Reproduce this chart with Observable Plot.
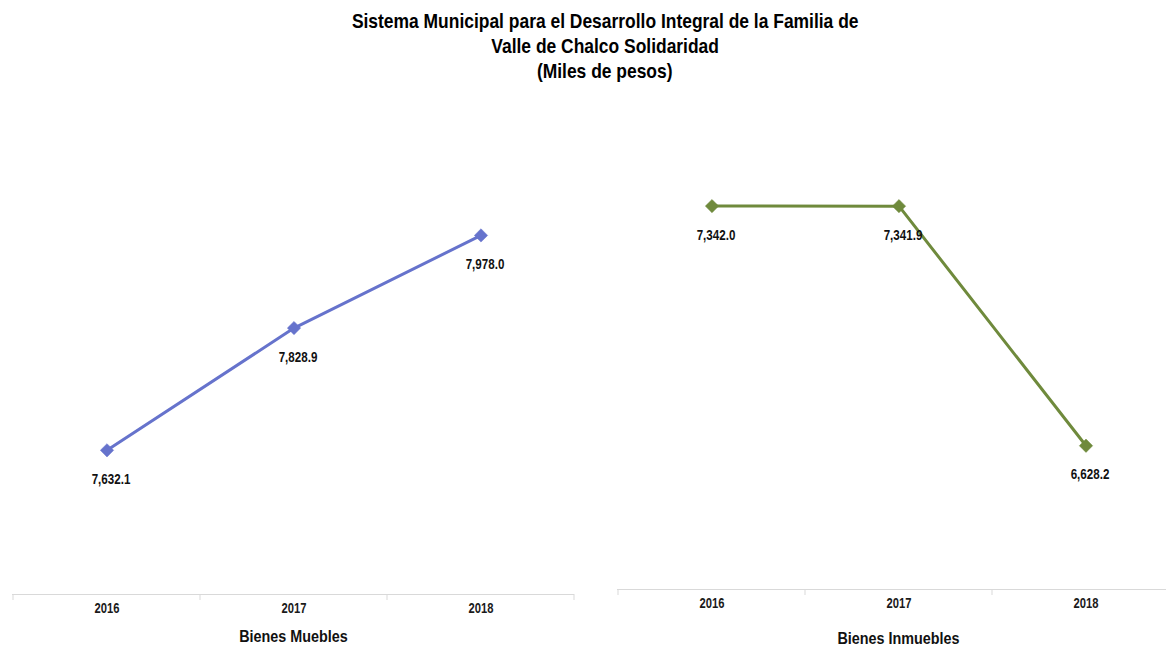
<!DOCTYPE html>
<html>
<head>
<meta charset="utf-8">
<script src="https://cdn.jsdelivr.net/npm/d3@7"></script>
<script src="https://cdn.jsdelivr.net/npm/@observablehq/plot@0.6"></script>
<style>
  html, body { margin: 0; padding: 0; background: #fff; overflow: hidden; }
  #page { position: relative; width: 1166px; height: 651px; overflow: hidden;
          font-family: "Liberation Sans", Arial, sans-serif; }
  #title { position: absolute; top: 8px; left: 105px; width: 1000px; text-align: center;
           font-weight: bold; font-size: 21px; line-height: 25px; color: #000; }
  #title div span { display: inline-block; transform: scaleX(0.83); transform-origin: center; white-space: nowrap; }
  #left { position: absolute; left: 0; top: 90px; }
  #right { position: absolute; left: 590px; top: 90px; }
  svg { overflow: visible; max-width: none !important; }
</style>
</head>
<body>
<div id="page">
  <div id="title">
    <div><span>Sistema Municipal para el Desarrollo Integral de la Familia de</span></div>
    <div><span>Valle de Chalco Solidaridad</span></div>
    <div><span>(Miles de pesos)</span></div>
  </div>
  <div id="left"></div>
  <div id="right"></div>
</div>
<script>
const years = ["2016", "2017", "2018"];
const mueblesValues = [7632.1, 7828.9, 7978.0];
const inmueblesValues = [7342.0, 7341.9, 6628.2];
const mueblesLabel = "Bienes Muebles";
const inmueblesLabel = "Bienes Inmuebles";

const fontFamily = '"Liberation Sans", Arial, sans-serif';
const fmt = d3.format(",.1f");

// Custom mark: faint tick marks at category band boundaries, via the x scale
function bandTicks(color) {
  return function (index, scales, values, dimensions) {
    const x = scales.x;
    const bw = x.bandwidth();
    const y0 = dimensions.height - dimensions.marginBottom;
    const g = d3.create("svg:g");
    const dom = x.domain();
    const edges = dom.map(d => x(d)).concat([x(dom[dom.length - 1]) + bw]);
    g.selectAll("line").data(edges).join("line")
      .attr("x1", d => d).attr("x2", d => d)
      .attr("y1", y0).attr("y2", y0 + 6)
      .attr("stroke", color).attr("stroke-width", 1);
    return g.node();
  };
}

function panel({values, label, color, domain, width, height, mL, mR, mT, mB, titleDy}) {
  const data = years.map((y, i) => ({year: y, value: values[i]}));
  return Plot.plot({
    width, height,
    marginLeft: mL, marginRight: mR, marginTop: mT, marginBottom: mB,
    style: {fontFamily, background: "transparent", overflow: "visible"},
    x: {type: "band", domain: years, padding: 0, label: null},
    y: {domain, axis: null},
    marks: [
      Plot.ruleY([domain[0]], {stroke: "#d9d9d9", strokeWidth: 1.2}),
      bandTicks("#d9d9d9"),
      Plot.axisX({tickSize: 0, tickPadding: 9, fontSize: 14, fontWeight: "bold", fill: "#1a1a1a", label: null}),
      Plot.line(data, {x: "year", y: "value", stroke: color, strokeWidth: 3}),
      Plot.dot(data, {x: "year", y: "value", symbol: "diamond2", r: 6, fill: color, stroke: color, strokeWidth: 0.5}),
      Plot.text(data, {x: "year", y: "value", text: d => fmt(d.value), dy: 29, dx: 4,
        fontSize: 14.5, fontWeight: "bold", fill: "#111"}),
      Plot.text([label], {frameAnchor: "bottom", dy: titleDy, fontSize: 16.5, fontWeight: "bold", fill: "#111"})
    ]
  });
}

// Condense text glyphs horizontally (narrow-font look)
function condense(svg) {
  svg.querySelectorAll("text").forEach(t => {
    const fs = parseFloat(getComputedStyle(t).fontSize);
    const s = fs >= 16 ? 0.87 : 0.8;
    const len = t.getComputedTextLength();
    if (len > 0) {
      t.setAttribute("textLength", (len * s).toFixed(2));
      t.setAttribute("lengthAdjust", "spacingAndGlyphs");
    }
  });
}

const left = panel({
  values: mueblesValues, label: mueblesLabel, color: "#6673cc",
  domain: [7400, 8200], width: 590, height: 561,
  mL: 12, mR: 16, mT: 7, mB: 57, titleDy: 47
});
document.getElementById("left").append(left);
condense(left);

const right = panel({
  values: inmueblesValues, label: inmueblesLabel, color: "#6f8a3c",
  domain: [6200, 7600], width: 589, height: 561,
  mL: 27, mR: 0, mT: 29, mB: 62, titleDy: 54
});
document.getElementById("right").append(right);
condense(right);
</script>
</body>
</html>
